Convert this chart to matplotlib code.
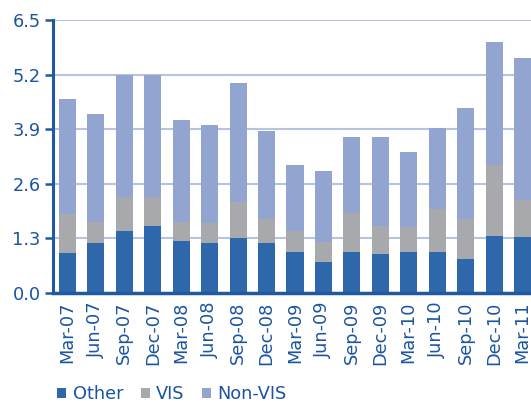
import matplotlib
matplotlib.use("Agg")
import matplotlib.pyplot as plt
import numpy as np

categories = ["Mar-07", "Jun-07", "Sep-07", "Dec-07", "Mar-08", "Jun-08", "Sep-08", "Dec-08",
              "Mar-09", "Jun-09", "Sep-09", "Dec-09", "Mar-10", "Jun-10", "Sep-10", "Dec-10", "Mar-11"]
other   = [0.95, 1.19, 1.47, 1.59, 1.24, 1.19, 1.31, 1.19, 0.97, 0.73, 0.97, 0.92, 0.97, 0.97, 0.80, 1.35, 1.33]
vis     = [0.93, 0.50, 0.81, 0.69, 0.45, 0.48, 0.86, 0.57, 0.50, 0.48, 0.93, 0.67, 0.59, 1.03, 0.96, 1.70, 0.89]
non_vis = [2.73, 2.56, 2.92, 2.92, 2.44, 2.34, 2.82, 2.10, 1.58, 1.70, 1.82, 2.13, 1.80, 1.94, 2.65, 2.92, 3.37]
yticks = [0.0, 1.3, 2.6, 3.9, 5.2, 6.5]

c_other = "#2E68AA"
c_vis = "#A8A9AD"
c_nonvis = "#91A5D0"
c_axis = "#1F5AA0"
c_text = "#1B55A0"
c_grid = "#B8C3E0"

plt.rcParams["font.family"] = ["DejaVu Sans"]

fig = plt.figure(figsize=(5.31, 4.05), dpi=100)
ax = fig.add_axes([53/531, 1 - 293/405, 1 - 53/531, (293 - 20)/405])

x = np.arange(len(categories))
other_a = np.array(other)
vis_a = np.array(vis)
nv_a = np.array(non_vis)
w = 0.6
ax.bar(x, other_a, width=w, color=c_other, label="Other", zorder=3)
ax.bar(x, vis_a, width=w, bottom=other_a, color=c_vis, label="VIS", zorder=3)
ax.bar(x, nv_a, width=w, bottom=other_a + vis_a, color=c_nonvis, label="Non-VIS", zorder=3)

ax.set_xlim(-0.51, 16.3)
ax.set_ylim(0, 6.5)
ax.set_yticks(yticks)
ax.set_yticklabels([f"{v:.1f}" for v in yticks])
ax.yaxis.grid(True, color=c_grid, linewidth=1.5, zorder=0)
ax.set_axisbelow(True)
ax.set_xticks(x)
ax.set_xticklabels(categories, rotation=90)

for s in ["top", "right"]:
    ax.spines[s].set_visible(False)
ax.spines["left"].set_color(c_axis)
ax.spines["left"].set_linewidth(2.2)
ax.spines["bottom"].set_color(c_axis)
ax.spines["bottom"].set_linewidth(2.5)
ax.spines["bottom"].set_zorder(4)
ax.tick_params(axis="y", colors=c_axis, labelcolor=c_text, length=6, width=1.8, labelsize=12.8, pad=3)
ax.tick_params(axis="x", length=0, labelcolor=c_text, labelsize=12.8, pad=6)

fig.legend(loc="lower left", bbox_to_anchor=(0.078, -0.035), ncol=3, frameon=False,
           handlelength=0.5, handleheight=0.5, handletextpad=0.35, columnspacing=1.0,
           fontsize=12.8, labelcolor=c_text)

fig.savefig("out.png", dpi=100)
